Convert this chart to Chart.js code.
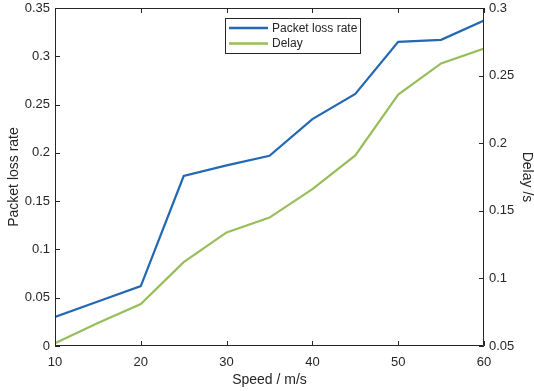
<!DOCTYPE html>
<html>
<head>
<meta charset="utf-8">
<script src="https://cdn.jsdelivr.net/npm/chart.js@4/dist/chart.umd.min.js"></script>
<style>
    html, body { margin: 0; padding: 0; background: #fff; }
    #wrap { width: 534px; height: 391px; }
    canvas { display: block; }
</style>
</head>
<body>
<div id="wrap"><canvas id="chart" width="534" height="391"></canvas></div>
<script>
(function () {
    "use strict";

    const speeds = [10, 15, 20, 25, 30, 35, 40, 45, 50, 55, 60];
    const lossRate = [0.030, 0.046, 0.062, 0.176, 0.187, 0.197, 0.235, 0.261, 0.315, 0.317, 0.337];
    const delay = [0.052, 0.067, 0.081, 0.112, 0.134, 0.145, 0.166, 0.191, 0.236, 0.259, 0.270];
    const xTicks = [10, 20, 30, 40, 50, 60];
    const leftTicks = [0, 0.05, 0.1, 0.15, 0.2, 0.25, 0.3, 0.35];
    const rightTicks = [0.05, 0.1, 0.15, 0.2, 0.25, 0.3];

    const INK = "#262626";
    const FONT = "'Liberation Sans', Arial, Helvetica, sans-serif";

    function fmt(v) {
        return String(parseFloat(v.toFixed(2)));
    }

    // MATLAB-like frame with inward ticks and a boxed legend
    const framePlugin = {
        id: "frame",
        afterDraw: function (chart) {
            const ctx = chart.ctx;
            const a = chart.chartArea;
            const sx = chart.scales.x, sl = chart.scales.y, sr = chart.scales.y1;
            const tl = 5;
            ctx.save();
            ctx.strokeStyle = INK;
            ctx.lineWidth = 1;
            ctx.beginPath();
            ctx.rect(a.left + 0.5, a.top + 0.5, a.right - a.left - 1, a.bottom - a.top - 1);
            xTicks.forEach(function (v) {
                const x = Math.round(sx.getPixelForValue(v)) + 0.5;
                ctx.moveTo(x, a.bottom); ctx.lineTo(x, a.bottom - tl);
                ctx.moveTo(x, a.top); ctx.lineTo(x, a.top + tl);
            });
            leftTicks.forEach(function (v) {
                const y = Math.round(sl.getPixelForValue(v)) + 0.5;
                ctx.moveTo(a.left, y); ctx.lineTo(a.left + tl, y);
            });
            rightTicks.forEach(function (v) {
                const y = Math.round(sr.getPixelForValue(v)) + 0.5;
                ctx.moveTo(a.right, y); ctx.lineTo(a.right - tl, y);
            });
            ctx.stroke();

            // legend box
            const bx = a.left + 170, by = a.top + 10, bw = 135, bh = 35;
            ctx.fillStyle = "#fff";
            ctx.fillRect(bx, by, bw, bh);
            ctx.strokeRect(bx + 0.5, by + 0.5, bw, bh);
            ctx.font = "12px " + FONT;
            ctx.textBaseline = "middle";
            chart.data.datasets.forEach(function (ds, i) {
                const ly = by + 10 + i * 15.5;
                ctx.strokeStyle = ds.borderColor;
                ctx.lineWidth = 2.5;
                ctx.beginPath();
                ctx.moveTo(bx + 4, ly);
                ctx.lineTo(bx + 43, ly);
                ctx.stroke();
                ctx.fillStyle = INK;
                ctx.fillText(ds.label, bx + 47, ly + 0.5);
            });
            ctx.restore();
        }
    };

    function fixed(size) {
        return function (scale) {
            if (scale.isHorizontal()) scale.height = size;
            else scale.width = size;
            scale.paddingTop = 0;
            scale.paddingBottom = 0;
            scale.paddingLeft = 0;
            scale.paddingRight = 0;
        };
    }

    new Chart(document.getElementById("chart").getContext("2d"), {
        type: "line",
        data: {
            datasets: [
                {
                    label: "Packet loss rate",
                    data: speeds.map(function (s, i) { return { x: s, y: lossRate[i] }; }),
                    borderColor: "#2368b2",
                    backgroundColor: "transparent",
                    borderWidth: 2.2,
                    pointRadius: 0,
                    tension: 0,
                    yAxisID: "y",
                },
                {
                    label: "Delay",
                    data: speeds.map(function (s, i) { return { x: s, y: delay[i] }; }),
                    borderColor: "#98be5b",
                    backgroundColor: "transparent",
                    borderWidth: 2.2,
                    pointRadius: 0,
                    tension: 0,
                    yAxisID: "y1",
                },
            ],
        },
        options: {
            responsive: false,
            animation: false,
            devicePixelRatio: 1,
            layout: { padding: { top: 8, left: 0, right: 0, bottom: 0 } },
            plugins: { legend: { display: false }, tooltip: { enabled: false } },
            scales: {
                x: {
                    type: "linear",
                    min: 10,
                    max: 60,
                    afterFit: fixed(45),
                    afterBuildTicks: function (s) { s.ticks = xTicks.map(function (v) { return { value: v }; }); },
                    grid: { display: false, drawTicks: false },
                    border: { display: false },
                    ticks: { color: INK, padding: 9, maxRotation: 0, font: { family: FONT, size: 13 } },
                    title: {
                        display: true,
                        text: "Speed / m/s",
                        color: INK,
                        padding: { top: 0, bottom: 4 },
                        font: { family: FONT, size: 14, lineHeight: 1 },
                    },
                },
                y: {
                    position: "left",
                    min: 0,
                    max: 0.35,
                    afterFit: fixed(55),
                    afterBuildTicks: function (s) { s.ticks = leftTicks.map(function (v) { return { value: v }; }); },
                    grid: { display: false, drawTicks: false },
                    border: { display: false },
                    ticks: { color: INK, padding: 5, callback: fmt, font: { family: FONT, size: 13 } },
                    title: {
                        display: true,
                        text: "Packet loss rate",
                        color: INK,
                        padding: { top: 7, bottom: 0 },
                        font: { family: FONT, size: 14, lineHeight: 1 },
                    },
                },
                y1: {
                    position: "right",
                    min: 0.05,
                    max: 0.3,
                    afterFit: fixed(50),
                    afterBuildTicks: function (s) { s.ticks = rightTicks.map(function (v) { return { value: v }; }); },
                    grid: { display: false, drawTicks: false },
                    border: { display: false },
                    ticks: { color: INK, padding: 5, callback: fmt, font: { family: FONT, size: 13 } },
                    title: {
                        display: true,
                        text: "Delay /s",
                        color: INK,
                        padding: { top: 0, bottom: 0 },
                        font: { family: FONT, size: 14, lineHeight: 1 },
                    },
                },
            },
        },
        plugins: [framePlugin],
    });
})();
</script>
</body>
</html>
